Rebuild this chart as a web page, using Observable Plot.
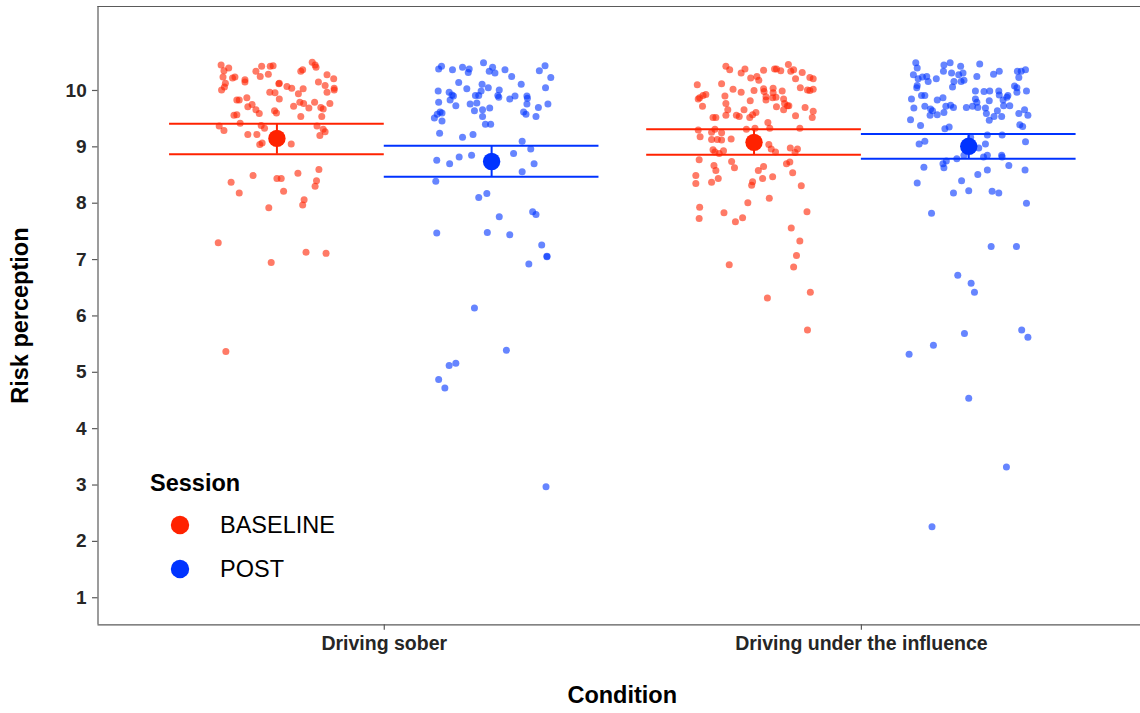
<!DOCTYPE html>
<html>
<head>
<meta charset="utf-8">
<script src="https://cdn.jsdelivr.net/npm/d3@7"></script>
<script src="https://cdn.jsdelivr.net/npm/@observablehq/plot@0.6"></script>
<style>
  body { margin: 0; background: #fff; }
  #wrap { position: relative; width: 1140px; height: 713px; overflow: hidden; }
</style>
</head>
<body>
<div id="wrap"></div>
<script>
// ---------------- data ----------------
const conditions = ["Driving sober", "Driving under the influence"];
const sessions = ["BASELINE", "POST"];
const sessionColors = ["#ff2200", "#0033ff"];
const yTicks = [1, 2, 3, 4, 5, 6, 7, 8, 9, 10];

// summary per (condition, session): sober-BASELINE, sober-POST, DUI-BASELINE, DUI-POST
const summaryCondition = [0, 0, 1, 1];
const summarySession = [0, 1, 0, 1];
const meanValues = [9.15, 8.74, 9.08, 9.01];
const ciLower = [8.87, 8.47, 8.86, 8.79];
const ciUpper = [9.41, 9.02, 9.31, 9.23];

// individual observations: horizontal jitter (in category units) and risk perception
const soberBaselineJitter = [-0.117,-0.101,-0.111,-0.032,-0.014,-0.008,-0.044,-0.035,-0.018,0.050,0.054,0.074,0.080,0.082,0.105,0.119,0.087,0.101,0.120,0.120,0.105,-0.113,-0.093,-0.088,-0.067,-0.067,0.005,0.004,-0.108,-0.110,-0.116,0.021,0.031,0.055,0.045,-0.015,-0.004,0.005,-0.084,-0.079,-0.063,-0.052,-0.061,-0.044,-0.037,-0.005,-0.001,0.035,0.048,0.056,0.067,0.079,0.092,0.097,0.111,0.050,0.094,-0.090,-0.084,-0.077,-0.121,-0.111,-0.033,-0.026,-0.061,-0.042,-0.031,-0.036,0.030,0.084,0.097,0.101,0.090,-0.096,-0.079,-0.050,0.000,0.009,0.014,0.044,0.088,0.083,0.080,0.057,0.054,-0.017,-0.123,0.061,0.103,-0.012,-0.107];
const soberBaselineValues = [10.45,10.40,10.35,10.43,10.43,10.44,10.34,10.25,10.29,10.34,10.37,10.50,10.45,10.41,10.28,10.21,10.15,10.09,10.04,10.01,9.97,10.24,10.22,10.24,10.19,10.15,10.13,10.12,10.13,10.06,10.01,10.07,10.04,10.03,9.94,9.97,9.96,9.85,9.83,9.83,9.87,9.75,9.71,9.66,9.59,9.64,9.60,9.72,9.79,9.77,9.69,9.79,9.70,9.67,9.77,9.54,9.54,9.56,9.57,9.42,9.37,9.29,9.38,9.33,9.22,9.22,9.07,9.04,9.05,9.37,9.31,9.27,9.20,8.37,8.18,8.49,8.44,8.44,8.21,8.53,8.60,8.40,8.30,8.06,7.97,7.92,7.30,7.13,7.11,6.95,5.37];

const soberPostJitter = [-0.111,-0.105,-0.082,-0.061,-0.047,-0.049,-0.017,-0.005,0.002,0.007,0.028,0.042,0.100,0.112,0.124,-0.069,-0.052,-0.020,-0.007,-0.112,-0.089,-0.083,-0.080,-0.087,-0.111,-0.075,-0.045,-0.031,-0.034,-0.027,-0.022,0.016,0.013,0.015,0.038,0.049,0.062,0.074,0.075,0.074,0.113,0.118,0.098,-0.036,-0.019,-0.004,-0.019,-0.013,-0.002,-0.108,-0.104,-0.114,-0.120,-0.104,0.067,0.072,0.093,-0.109,-0.061,-0.039,0.064,0.082,0.046,0.089,0.064,-0.115,-0.088,-0.068,-0.042,-0.117,-0.027,-0.010,0.016,0.086,0.093,-0.115,-0.009,0.038,0.105,0.116,0.116,0.078,-0.036,0.031,-0.075,-0.089,-0.111,-0.098,0.114];
const soberPostValues = [10.38,10.43,10.37,10.41,10.38,10.32,10.49,10.34,10.41,10.31,10.37,10.25,10.35,10.44,10.23,10.14,10.03,10.11,10.05,9.99,9.97,9.92,9.90,9.83,9.79,9.73,9.76,9.78,9.91,9.91,9.99,10.01,9.91,9.88,9.85,9.90,10.11,9.90,9.86,9.76,10.05,9.76,9.70,9.64,9.66,9.69,9.54,9.40,9.40,9.62,9.60,9.58,9.51,9.46,9.62,9.58,9.54,9.24,9.17,9.22,9.10,8.96,8.88,8.70,8.56,8.76,8.70,8.82,8.85,8.39,8.10,8.17,7.76,7.85,7.80,7.47,7.48,7.44,7.26,7.06,7.05,6.92,6.14,5.39,5.16,5.12,4.87,4.72,2.97];

const duiBaselineJitter = [-0.059,-0.051,-0.027,-0.019,-0.007,0.006,0.010,0.020,0.043,0.047,0.056,0.072,0.077,0.083,0.101,0.087,0.117,0.124,0.097,0.112,0.117,0.124,-0.119,-0.068,-0.101,-0.107,-0.114,-0.117,-0.108,-0.044,-0.027,-0.061,-0.059,-0.055,-0.059,-0.037,-0.031,-0.021,-0.008,0.000,0.020,0.021,0.040,0.040,0.059,0.025,0.025,0.039,0.046,0.062,0.064,0.070,0.047,0.062,0.073,0.107,0.124,0.122,0.087,-0.009,-0.003,0.004,-0.086,-0.080,0.029,0.033,0.002,-0.016,0.096,-0.117,-0.113,-0.089,-0.082,-0.068,-0.089,-0.077,-0.068,-0.048,0.031,0.036,0.045,-0.086,-0.082,-0.073,-0.064,0.076,0.091,0.086,-0.115,-0.047,-0.041,-0.084,-0.080,0.009,0.020,0.039,0.068,0.075,0.081,-0.122,-0.122,-0.089,-0.075,0.018,-0.003,-0.005,0.099,0.032,-0.013,-0.114,-0.063,0.111,-0.115,-0.039,-0.024,0.078,0.096,0.089,0.083,-0.052,0.118,0.028,0.112];
const duiBaselineValues = [10.43,10.37,10.31,10.38,10.22,10.25,10.18,10.36,10.38,10.38,10.35,10.46,10.34,10.37,10.32,10.21,10.23,10.21,10.05,10.01,10.00,10.02,10.10,10.12,9.93,9.91,9.87,9.85,9.72,10.02,9.97,9.90,9.77,9.66,9.56,9.56,9.54,9.66,9.82,10.00,10.03,9.98,10.04,9.96,9.99,9.89,9.83,9.87,9.88,9.85,9.77,9.73,9.71,9.66,9.73,9.70,9.63,9.52,9.55,9.52,9.57,9.61,9.52,9.52,9.43,9.33,9.33,9.31,9.33,9.30,9.18,9.26,9.31,9.25,9.13,9.13,9.12,9.14,9.04,8.96,8.91,8.95,8.91,8.88,8.93,8.98,8.96,8.90,8.77,8.74,8.63,8.67,8.58,8.58,8.65,8.47,8.70,8.73,8.54,8.49,8.35,8.37,8.44,8.44,8.38,8.32,8.31,8.09,8.01,7.93,7.83,7.85,7.73,7.67,7.74,7.56,7.33,7.07,6.87,6.91,6.42,6.32,5.75];

const duiPostJitter = [-0.111,-0.108,-0.116,-0.106,-0.108,-0.109,-0.097,-0.088,-0.085,-0.068,-0.052,-0.039,-0.053,-0.036,-0.017,-0.021,-0.012,-0.010,-0.016,-0.031,-0.034,0.023,0.017,0.052,0.064,0.102,0.110,0.119,0.105,0.096,0.101,0.101,0.121,-0.120,-0.099,-0.092,-0.115,-0.092,-0.080,-0.076,-0.066,-0.054,-0.048,-0.038,-0.032,-0.052,-0.066,-0.081,-0.122,-0.101,-0.050,-0.041,-0.005,0.008,0.014,0.017,0.019,0.014,0.032,0.044,0.043,0.035,0.037,0.063,0.064,0.082,0.080,0.072,0.073,0.086,0.060,0.053,0.069,0.043,0.117,0.105,0.124,0.107,0.113,0.004,0.039,0.070,0.035,0.021,0.119,-0.092,-0.104,0.039,0.031,0.069,0.070,-0.025,-0.010,-0.047,-0.054,-0.052,-0.094,0.019,0.039,0.084,0.118,-0.015,-0.108,-0.032,0.000,0.049,0.063,0.121,-0.078,0.047,0.100,-0.023,0.005,0.012,0.111,0.124,-0.009,-0.074,-0.125,0.000,0.079,-0.077];
const duiPostValues = [10.49,10.40,10.28,10.21,10.09,10.05,10.24,10.25,10.16,10.21,10.45,10.49,10.34,10.31,10.43,10.28,10.31,10.18,10.16,10.16,10.06,10.47,10.25,10.29,10.34,10.34,10.34,10.37,10.23,10.08,10.05,9.97,9.99,9.85,9.91,9.91,9.69,9.72,9.67,9.64,9.83,9.87,9.72,9.74,9.70,9.61,9.57,9.56,9.48,9.38,9.32,9.35,9.70,9.72,9.85,9.79,9.70,9.99,9.98,9.99,9.82,9.69,9.59,9.99,9.92,9.91,9.88,9.83,9.73,9.73,9.64,9.54,9.54,9.47,9.66,9.59,9.56,9.39,9.36,9.17,9.21,9.21,9.05,8.98,9.09,9.10,9.05,8.85,8.82,8.85,8.82,8.79,8.85,8.75,8.70,8.63,8.64,8.51,8.59,8.67,8.59,8.40,8.36,8.18,8.22,8.21,8.18,8.00,7.82,7.23,7.23,6.72,6.58,6.42,5.75,5.62,5.69,5.48,5.32,4.54,3.32,2.26];

// ---------------- build tables ----------------
const dodge = 0.225;      // half of dodge width 0.9
const capHalf = 0.225;    // error bar cap half-width
const groupCenter = (c, s) => c + 1 + (s === 0 ? -dodge : dodge);

const groups = [
  {c: 0, s: 0, jitter: soberBaselineJitter, values: soberBaselineValues},
  {c: 0, s: 1, jitter: soberPostJitter, values: soberPostValues},
  {c: 1, s: 0, jitter: duiBaselineJitter, values: duiBaselineValues},
  {c: 1, s: 1, jitter: duiPostJitter, values: duiPostValues}
];
const points = groups.flatMap(g => g.values.map((v, i) => ({
  x: groupCenter(g.c, g.s) + g.jitter[i],
  y: v,
  session: sessions[g.s]
})));
const summary = meanValues.map((m, i) => ({
  xc: groupCenter(summaryCondition[i], summarySession[i]),
  mean: m,
  lower: ciLower[i],
  upper: ciUpper[i],
  session: sessions[summarySession[i]]
}));

const xDomain = [0.4, 2.585];
const yDomain = [0.52, 11.49];
const font = "'Liberation Sans', Arial, Helvetica, sans-serif";
const axisColor = "#5a5a5a";

const chart = Plot.plot({
  width: 1140,
  height: 713,
  marginLeft: 97.5,
  marginRight: 0,
  marginTop: 6,
  marginBottom: 88.7,
  style: {fontFamily: font, background: "white", overflow: "hidden"},
  x: {domain: xDomain},
  y: {domain: yDomain},
  color: {domain: sessions, range: sessionColors},
  marks: [
    // panel lines: left, bottom, top
    Plot.ruleX([xDomain[0]], {stroke: axisColor, strokeWidth: 1.2}),
    Plot.ruleY([yDomain[0]], {stroke: axisColor, strokeWidth: 1.2}),
    Plot.ruleY([yDomain[1]], {stroke: axisColor, strokeWidth: 1.2}),
    Plot.axisY({
      ticks: yTicks, tickSize: 5.5, tickPadding: 5.8, fontSize: 19, fontWeight: "bold",
      fill: "#262626", stroke: axisColor, strokeWidth: 1.2, label: null
    }),
    Plot.axisX({
      ticks: [1, 2], tickFormat: d => conditions[d - 1], tickSize: 5.5, tickPadding: 6,
      fontSize: 19.5, fontWeight: "bold", fill: "#262626", stroke: axisColor, strokeWidth: 1.2, label: null
    }),
    Plot.text(["Risk perception"], {
      frameAnchor: "left", textAnchor: "middle", rotate: -90, dx: -77.1, lineAnchor: "middle",
      fontSize: 23.5, fontWeight: "bold", fill: "black"
    }),
    Plot.text(["Condition"], {
      frameAnchor: "bottom", textAnchor: "middle", dy: 70.2, dx: 3, lineAnchor: "middle",
      fontSize: 23.5, fontWeight: "bold", fill: "black"
    }),
    // jittered observations
    Plot.dot(points, {x: "x", y: "y", r: 3.5, fill: "session", fillOpacity: 0.6}),
    // error bars (caps + stem)
    Plot.ruleY(summary, {y: "upper", x1: d => d.xc - capHalf, x2: d => d.xc + capHalf, stroke: "session", strokeWidth: 2}),
    Plot.ruleY(summary, {y: "lower", x1: d => d.xc - capHalf, x2: d => d.xc + capHalf, stroke: "session", strokeWidth: 2}),
    Plot.ruleX(summary, {x: "xc", y1: "lower", y2: "upper", stroke: "session", strokeWidth: 2}),
    // means
    Plot.dot(summary, {x: "xc", y: "mean", r: 8.7, fill: "session"})
  ]
});

const wrap = document.getElementById("wrap");
wrap.appendChild(chart);

// ---------------- legend (inside panel, bottom-left) ----------------
const legend = d3.select(wrap).append("svg")
  .attr("width", 400).attr("height", 160)
  .style("position", "absolute").style("left", "130px").style("top", "455px")
  .style("font-family", font);
legend.append("text")
  .attr("x", 20).attr("y", 36)
  .attr("font-size", 23.5).attr("font-weight", "bold").attr("fill", "black")
  .text("Session");
sessions.forEach((s, i) => {
  const cy = 70 + i * 44;
  legend.append("circle").attr("cx", 50).attr("cy", cy).attr("r", 9.2).attr("fill", sessionColors[i]);
  legend.append("text")
    .attr("x", 90).attr("y", cy).attr("dy", "0.36em")
    .attr("font-size", 23.5).attr("fill", "black")
    .text(s);
});
</script>
</body>
</html>
